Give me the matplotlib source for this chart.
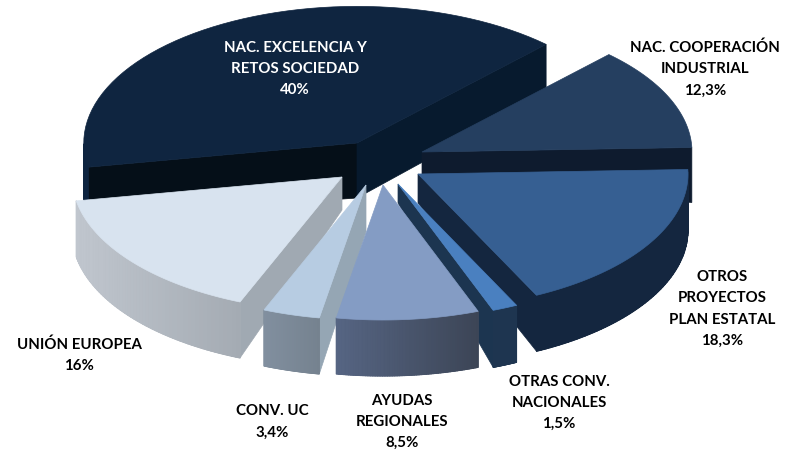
import numpy as np
import matplotlib
matplotlib.use('Agg')
import matplotlib.pyplot as plt
from matplotlib.collections import PolyCollection
from matplotlib.colors import to_rgb

# datos del grafico
categorias = ['NAC. EXCELENCIA Y\nRETOS SOCIEDAD', 'NAC. COOPERACIÓN\nINDUSTRIAL',
              'OTROS\nPROYECTOS\nPLAN ESTATAL', 'OTRAS CONV.\nNACIONALES',
              'AYUDAS\nREGIONALES', 'CONV. UC', 'UNIÓN EUROPEA']
valores = [40, 12.3, 18.3, 1.5, 8.5, 3.4, 16]

# forma de la tarta, en pixeles de la imagen
inicio = 190.2
rx, ry = 270, 135
escala = [1.012, 1, 1, 1, 1, 1, 1]
vertices = [(357, 143), (422, 152), (418, 174), (398, 184), (383, 185), (366, 185), (342, 177)]
fondo_vertice = [55, 30, 29, 19, 40, 47, 33]
fondo_borde = [50, 55, 56, 57, 56, 56, 56]

# colores: cara superior, corte, borde izq. y der.
c_top = ['#0f2540', '#253f60', '#365f92', '#4a80c0', '#849cc4', '#b7cce2', '#d8e3ef']
c_corte_ini = ['#050f18', '#0e1b2e', '#14263f', '#1c3550', '#3c4556', '#95a6b4', '#a0a9b2']
c_corte_fin = ['#071a2e', '#0e1b2e', '#14263f', '#1c3550', '#3c4556', '#95a6b4', '#a0a9b2']
c_borde_izq = ['#0d2440', '#0e1b2e', '#14263f', '#1e3550', '#566583', '#818f9f', '#c0c6ce']
c_borde_der = ['#0d2440', '#0e1b2e', '#14263f', '#1e3550', '#3c4556', '#75828f', '#a4abb3']

# posicion de las etiquetas
pos_etiq = [(295, 69), (705, 69), (722, 309), (559, 403), (402, 422), (272, 422), (79, 355)]
color_etiq = ['white', 'black', 'black', 'black', 'black', 'black', 'black']
orden = [0, 1, 2, 6, 5, 3, 4]

fig = plt.figure(figsize=(7.89, 4.55), dpi=100)
ax = fig.add_axes([0, 0, 1, 1])
ax.set_xlim(0, 789)
ax.set_ylim(455, 0)
ax.axis('off')

# angulos de cada porcion a partir de los valores (sentido horario)
fin = inicio - np.cumsum(valores) * 3.6
ini = np.concatenate(([inicio], fin[:-1]))


def arco(i, a, b, n=60):
    t = np.radians(np.linspace(a, b, n))
    x = vertices[i][0] + escala[i] * rx * np.cos(t)
    y = vertices[i][1] - escala[i] * ry * np.sin(t)
    return t, x, y


for i in orden:
    t, x, y = arco(i, ini[i], fin[i])
    vx, vy = vertices[i]
    fv, fb = fondo_vertice[i], fondo_borde[i]
    z = orden.index(i) * 4

    # cortes, solo los que miran al frente
    if np.cos(t[0]) < 0:
        ax.fill([vx, x[0], x[0], vx], [vy, y[0], y[0] + fb, vy + fv],
                color=c_corte_ini[i], lw=0.5, zorder=z + 1)
    if np.cos(t[-1]) > 0:
        ax.fill([vx, x[-1], x[-1], vx], [vy, y[-1], y[-1] + fb, vy + fv],
                color=c_corte_fin[i], lw=0.5, zorder=z + 1)

    # borde exterior con degradado, solo la parte delantera
    ver = np.sin(t) < 0.02
    xv, yv = x[ver], y[ver]
    if len(xv) > 1:
        ci, cd = np.array(to_rgb(c_borde_izq[i])), np.array(to_rgb(c_borde_der[i]))
        # base lisa debajo para que no se vean rayas entre tiras
        ax.fill(np.r_[xv, xv[::-1]], np.r_[yv, yv[::-1] + fb], color=(ci + cd) / 2,
                lw=0.5, zorder=z + 2)
        tiras = []
        cols = []
        x0, x1 = xv.min(), xv.max()
        for k in range(len(xv) - 1):
            tiras.append([(xv[k], yv[k]), (xv[k + 1], yv[k + 1]),
                          (xv[k + 1], yv[k + 1] + fb), (xv[k], yv[k] + fb)])
            f = ((xv[k] + xv[k + 1]) / 2 - x0) / (x1 - x0)
            cols.append(ci + (cd - ci) * f)
        ax.add_collection(PolyCollection(tiras, facecolors=cols, edgecolors=cols,
                                         linewidths=0.8, zorder=z + 2))

    # cara superior
    ax.fill(np.r_[vx, x], np.r_[vy, y], color=c_top[i], lw=0.5, zorder=z + 3)

for i in range(len(valores)):
    pct = f'{valores[i]:g}'.replace('.', ',') + '%'
    ax.text(pos_etiq[i][0], pos_etiq[i][1], categorias[i] + '\n' + pct,
            ha='center', va='center', family='Lato', weight='bold', fontsize=10.8,
            color=color_etiq[i], linespacing=1.66, zorder=100)

fig.savefig('out.png', dpi=100)
